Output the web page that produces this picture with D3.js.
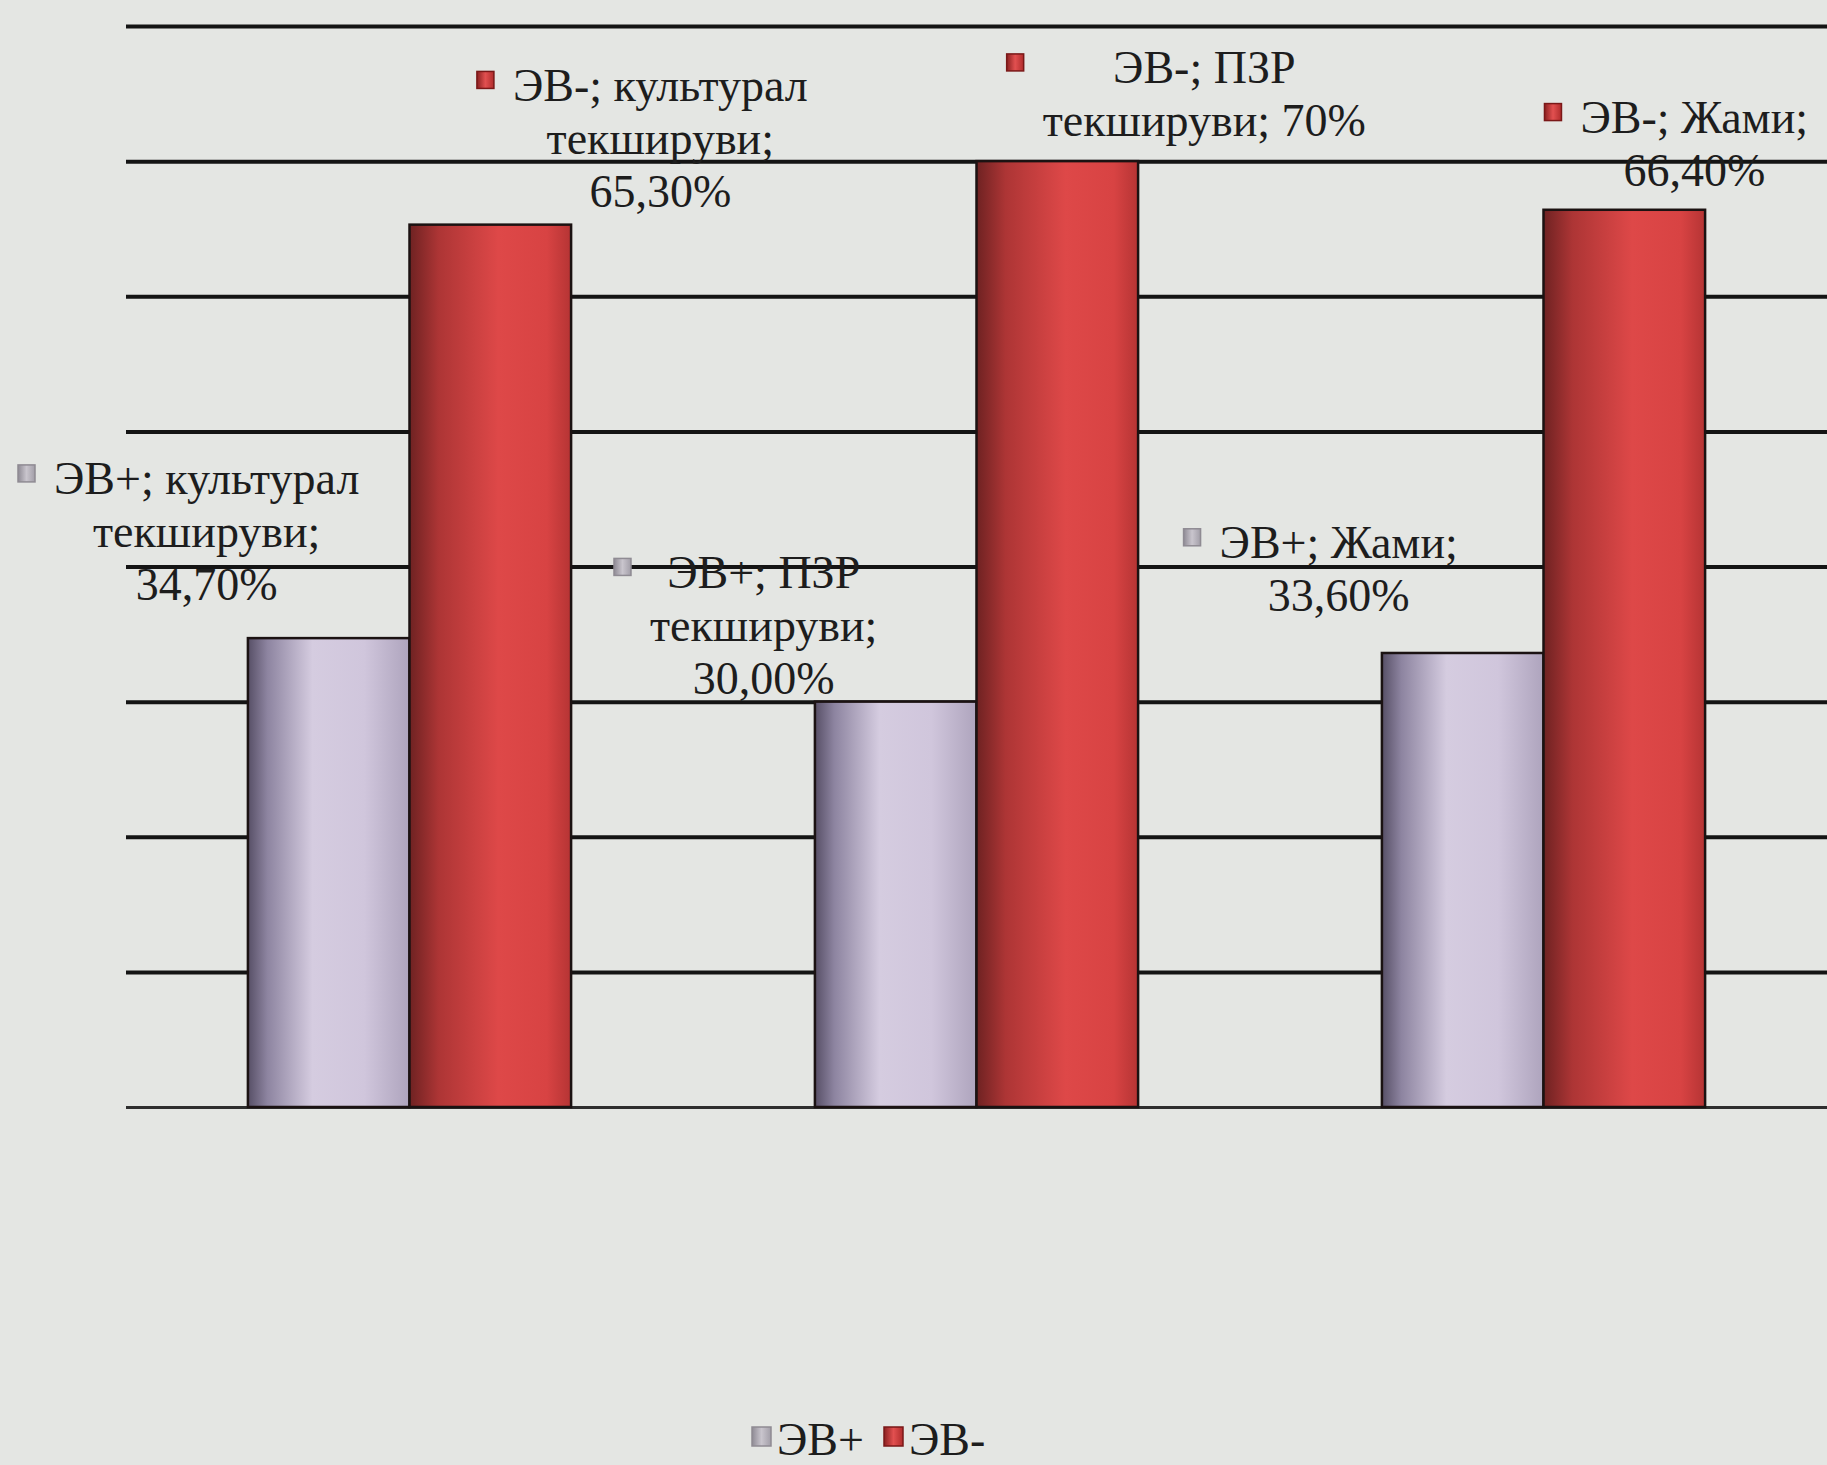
<!DOCTYPE html>
<html>
<head>
<meta charset="utf-8">
<script src="https://cdn.jsdelivr.net/npm/d3@7"></script>
<style>
  html, body { margin: 0; padding: 0; background: #e4e6e3; }
  svg { display: block; }
  text { font-family: "Liberation Serif", "Times New Roman", serif; fill: #1d1d1d; }
</style>
</head>
<body>
<svg id="chart" width="1827" height="1465"></svg>
<script>
// Categories and series
const categories = ["культурал текшируви", "ПЗР текшируви", "Жами"];
const seriesNames = ["ЭВ+", "ЭВ-"];

// Values, percent
const evPlus  = [34.7, 30.0, 33.6];
const evMinus = [65.3, 70, 66.4];

// Decimal places used in each data label
const plusDecimals  = [2, 2, 2];
const minusDecimals = [2, 0, 2];

// Gridline values (no tick labels are shown)
const gridTicks = [0, 10, 20, 30, 40, 50, 60, 70, 80];

// Data-label layout: words per line, and offset of the block from the bar top-centre
const plusWrap  = [[2, 1, 1], [2, 1, 1], [2, 1]];
const minusWrap = [[2, 1, 1], [2, 2], [2, 1]];
const plusShift  = [[-122, -38], [-132, -8], [-124, -42]];
const minusShift = [[170, -18], [147, -25], [70, -24]];

const W = 1827, H = 1465;
const plotLeft = 126, plotRight = W, plotTop = 26, plotBottom = 1107;
const fontSize = 46, lineGap = 53;

const svg = d3.select("#chart");

svg.append("rect").attr("width", W).attr("height", H).attr("fill", "#e4e6e3");

// Cylinder-like shading for each series
const defs = svg.append("defs");
function gradient(id, stops) {
  const g = defs.append("linearGradient").attr("id", id)
    .attr("x1", "0").attr("x2", "1").attr("y1", "0").attr("y2", "0");
  stops.forEach(([o, c]) => g.append("stop").attr("offset", o).attr("stop-color", c));
}
gradient("gPlus", [["0%", "#574f66"], ["12%", "#8d84a0"], ["40%", "#d5cce0"], ["72%", "#d0c6dc"], ["100%", "#aea4bd"]]);
gradient("gMinus", [["0%", "#6e2222"], ["18%", "#ad3535"], ["55%", "#de4848"], ["85%", "#d84343"], ["100%", "#b53434"]]);
gradient("kPlus", [["0%", "#8e8a94"], ["50%", "#c9c5cd"], ["100%", "#a29ea8"]]);
gradient("kMinus", [["0%", "#8a2020"], ["50%", "#e25050"], ["100%", "#b02c2c"]]);

const fills = { "ЭВ+": "url(#gPlus)", "ЭВ-": "url(#gMinus)" };
const keys  = { "ЭВ+": "url(#kPlus)", "ЭВ-": "url(#kMinus)" };

// Scales
const y = d3.scaleLinear().domain([0, 80]).range([plotBottom, plotTop]);
const x0 = d3.scaleBand().domain(categories).range([plotLeft, plotRight])
  .paddingInner(0.43).paddingOuter(0.215);
const x1 = d3.scaleBand().domain(seriesNames).range([0, x0.bandwidth()]).padding(0);

// Horizontal gridlines
const grid = svg.append("g").attr("transform", `translate(${plotLeft},0)`)
  .call(d3.axisLeft(y).tickValues(gridTicks).tickSize(-(plotRight - plotLeft)).tickFormat(""));
grid.select(".domain").remove();
grid.selectAll(".tick line").attr("stroke", "#141414").attr("stroke-width", 4);
grid.selectAll(".tick").filter(d => d === 0).select("line")
  .attr("stroke", "#2e2e2e").attr("stroke-width", 3);

// Table of points built from the series arrays
const seriesValues = { "ЭВ+": evPlus, "ЭВ-": evMinus };
const seriesDecimals = { "ЭВ+": plusDecimals, "ЭВ-": minusDecimals };
const seriesWrap = { "ЭВ+": plusWrap, "ЭВ-": minusWrap };
const seriesShift = { "ЭВ+": plusShift, "ЭВ-": minusShift };

const points = [];
seriesNames.forEach(s => {
  categories.forEach((c, i) => {
    points.push({ series: s, category: c, value: seriesValues[s][i], idx: i });
  });
});

// Bars
svg.append("g").selectAll("rect.bar").data(points).join("rect")
  .attr("class", "bar")
  .attr("x", d => x0(d.category) + x1(d.series))
  .attr("y", d => y(d.value))
  .attr("width", x1.bandwidth())
  .attr("height", d => y(0) - y(d.value))
  .attr("fill", d => fills[d.series])
  .attr("stroke", "#1b1212")
  .attr("stroke-width", 2.5);

// Data labels: "series; category; value" with a legend key on the left
function fmt(v, dec) {
  return v.toFixed(dec).replace(".", ",") + "%";
}

const labels = svg.append("g");
points.forEach(d => {
  const words = (d.series + "; " + d.category + "; " +
    fmt(d.value, seriesDecimals[d.series][d.idx])).split(" ");
  const wrap = seriesWrap[d.series][d.idx];
  const lines = [];
  let k = 0;
  wrap.forEach(n => { lines.push(words.slice(k, k + n).join(" ")); k += n; });

  const [dx, dy] = seriesShift[d.series][d.idx];
  const cx = x0(d.category) + x1(d.series) + x1.bandwidth() / 2 + dx;
  const lastBase = y(d.value) + dy;
  const firstBase = lastBase - (lines.length - 1) * lineGap;

  const g = labels.append("g");
  const t = g.selectAll("text").data(lines).join("text")
    .attr("x", cx)
    .attr("y", (l, j) => firstBase + j * lineGap)
    .attr("text-anchor", "middle")
    .attr("font-size", fontSize)
    .text(l => l);

  const maxW = d3.max(t.nodes(), n => n.getComputedTextLength());
  const keySize = 17;
  g.append("rect")
    .attr("x", cx - maxW / 2 - 19 - keySize)
    .attr("y", firstBase - fontSize * 0.45 - keySize / 2)
    .attr("width", keySize).attr("height", keySize)
    .attr("fill", keys[d.series])
    .attr("stroke", d.series === "ЭВ+" ? "#8f8b93" : "#7a1818")
    .attr("stroke-width", 1.5);
});

// Legend
const legend = svg.append("g").attr("transform", "translate(752,1455)");
let lx = 0;
seriesNames.forEach(s => {
  legend.append("rect")
    .attr("x", lx).attr("y", -28).attr("width", 19).attr("height", 19)
    .attr("fill", keys[s])
    .attr("stroke", s === "ЭВ+" ? "#8f8b93" : "#7a1818")
    .attr("stroke-width", 1.5);
  const txt = legend.append("text")
    .attr("x", lx + 25).attr("y", 0)
    .attr("font-size", fontSize)
    .text(s);
  lx += 25 + txt.node().getComputedTextLength() + 20;
});
</script>
</body>
</html>
